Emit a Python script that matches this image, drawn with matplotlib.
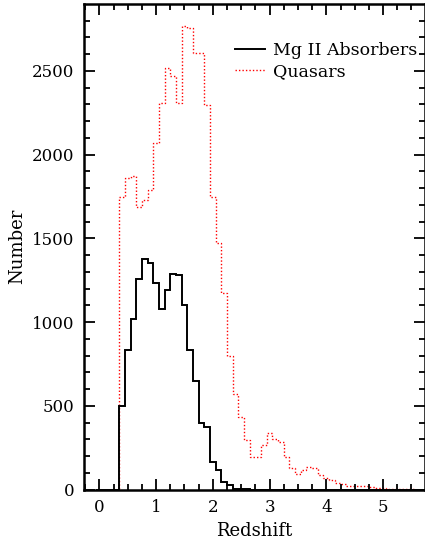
import matplotlib
matplotlib.use("Agg")
import matplotlib.pyplot as plt
import numpy as np

# Histogramm-Daten (Bins der Breite 0.1, ab z = -0.05)
bin_start = -0.05
bin_width = 0.1

absorbers = [0, 0, 0, 0,
             500, 834, 1016, 1255, 1374, 1350, 1231, 1080, 1191, 1287,
             1283, 1102, 833, 650, 399, 375, 164, 116, 42, 26,
             5, 2, 1, 0, 0, 0, 0, 0, 0, 0, 0, 0, 0, 0, 0, 0,
             0, 0, 0, 0, 0, 0, 0, 0, 0, 0, 0, 0, 0, 0, 0, 0,
             0, 0, 0, 0]
quasars = [0, 0, 0, 0,
           1748, 1858, 1874, 1689, 1729, 1789, 2067, 2306, 2519, 2469,
           2306, 2768, 2754, 2609, 2609, 2296, 1748, 1470, 1171, 799,
           570, 434, 295, 192, 192, 263, 335, 301, 281, 195,
           126, 90, 116, 136, 130, 86, 70, 56, 40, 32,
           22, 22, 20, 18, 12, 8, 6, 4, 3, 2,
           1, 1, 0, 0, 0, 0]

edges = bin_start + bin_width * np.arange(len(quasars) + 1)

plt.rcParams['font.family'] = ['DejaVu Serif']

fig = plt.figure(figsize=(4.25, 5.42), dpi=100)
ax = fig.add_axes([84 / 425, 1 - 489.5 / 542, (424.5 - 84) / 425, (489.5 - 4) / 542])

ax.stairs(quasars, edges, color="red", linestyle=(0, (1, 1.5)), linewidth=1.0,
          label="Quasars", baseline=None)
ax.stairs(absorbers, edges, color="black", linewidth=1.4,
          label="Mg II Absorbers", baseline=None)

ax.set_xlim(-0.27, 5.73)
ax.set_ylim(0, 2900)
ax.set_xticks([0, 1, 2, 3, 4, 5])
ax.set_xticks(np.arange(-0.25, 5.75, 0.25), minor=True)
ax.set_yticks([0, 500, 1000, 1500, 2000, 2500])
ax.set_yticks(np.arange(0, 2900, 100), minor=True)
ax.tick_params(which="both", direction="in", top=True, right=True, width=1.3,
               labelsize=12)
ax.tick_params(which="major", length=8)
ax.tick_params(which="minor", length=4)
ax.tick_params(axis="x", pad=7)
ax.tick_params(axis="y", pad=7)
for s in ax.spines.values():
    s.set_linewidth(1.8)

ax.set_xlabel("Redshift", fontsize=13, labelpad=4)
ax.set_ylabel("Number", fontsize=13, labelpad=4)

h, l = ax.get_legend_handles_labels()
ax.legend(h[::-1], l[::-1], loc="upper right", bbox_to_anchor=(1.005, 0.94),
          frameon=False, fontsize=12.5, handlelength=1.7, handletextpad=0.5,
          labelspacing=0.25, borderaxespad=0.1)

fig.savefig("out.png", dpi=100)
